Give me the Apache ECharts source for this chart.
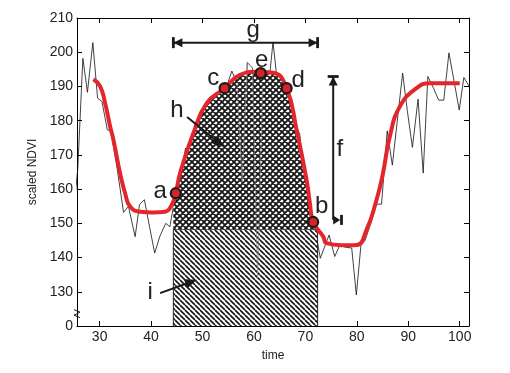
<!DOCTYPE html>
<html><head><meta charset="utf-8">
<script src="https://cdn.jsdelivr.net/npm/echarts@6/dist/echarts.min.js"></script>
<style>html,body{margin:0;padding:0;background:#fff}#c{width:510px;height:373px}</style>
</head><body><div id="c"></div>
<script>
// ---------- data ----------
const xTicks = [30, 40, 50, 60, 70, 80, 90, 100];
const rawT = [24.7, 25.75, 26.74, 27.63, 28.68, 29.6, 30.45, 31.5, 32.2, 33.4, 34.65, 35.6, 36.9, 37.75, 38.7, 39.7, 40.7, 41.7, 42.85, 43.65,
  44.7, 45.7, 46.7, 47.7, 48.7, 49.7, 50.7, 51.7, 52.7, 53.7, 54.7, 55.7, 56.7, 57.7, 58.7, 59.7, 60.7, 61.7, 62.7, 63.7,
  64.7, 65.7, 66.7, 67.7, 68.9, 69.8, 70.7, 71.7, 72.9, 74.6, 75.7, 76.7, 77.8, 79.0, 79.9, 80.8, 81.6, 82.7, 83.8, 84.8,
  85.9, 86.9, 87.9, 88.9, 89.8, 90.8, 91.9, 92.9, 93.8, 94.9, 95.9, 96.9, 97.9, 98.9, 99.9, 100.8, 101.8, 102.8];
const rawV = [150, 166, 198.2, 188.3, 202.8, 186.6, 185.6, 177.3, 177, 166, 153.2, 155, 146.1, 155.5, 156.9, 149, 141.3, 146.2, 150, 149,
  158, 163, 172, 168, 177, 181, 183, 186, 188, 189, 190, 194.5, 191, 162, 197, 195.5, 134, 190, 188, 203,
  189, 188, 184, 180, 176, 163, 155, 150, 139.8, 146.6, 140.3, 143.7, 143, 142.8, 129.1, 143.7, 145, 150, 155.6, 155.6,
  177, 167, 180.5, 193.9, 183, 172.2, 186.3, 164.7, 192.9, 189.5, 186, 186, 199.8, 191.5, 183.1, 192.6, 190.1, 185];
const fitT = [28.8, 30.1, 31.07, 32.04, 32.68, 33.98, 34.95, 35.92, 37.86, 40.3, 42.72, 44.02, 44.8, 45.63, 48.21, 50.82, 54.3, 57.28, 60.52,
  63.75, 66.35, 68.29, 70.23, 70.87, 71.51, 73.46, 74.12, 77.0, 79.94, 81.88, 83.83, 85.0, 86.4, 88.35, 91.6, 94.2, 100];
const fitV = [192.1, 190, 185.1, 178.3, 174.4, 164.6, 158.8, 154.9, 153.4, 153.2, 153.4, 155.4, 158.8, 164.6, 176.3, 185.1, 189.5, 193.4, 194.3,
  194, 189.5, 177.3, 162.7, 155.9, 150.4, 146.1, 144.2, 143.6, 143.7, 148.1, 156.9, 164, 175.3, 184.1, 189.5, 190.9, 190.9];
const markerT = [44.8, 54.3, 61.3, 66.35, 71.51];
const markerV = [158.8, 189.5, 193.9, 189.5, 150.4];
const seasonStart = 44.33, seasonEnd = 72.37, baseLevel = 148.3;
const labelText = ['g', 'e', 'c', 'd', 'h', 'f', 'a', 'b', 'i'];
const labelT = [59.86, 61.5, 52.1, 68.6, 45.0, 76.7, 41.75, 73.15, 39.8];
const labelV = [206.5, 197.7, 192.4, 191.9, 183.1, 171.5, 159.3, 154.9, 129.7];
// arrows: [x1, y1, x2, y2, kind]  kind 0: double with bars, 1: amplitude, 2: single, 3: axis break
const arrowG = [seasonStart, 202.8, seasonEnd, 202.8, 0];
const arrowF = [75.4, 192.9, 75.4, 151.0, 1];
const arrowH = [47.0, 181.1, 54.2, 172.3, 2];
const arrowI = [41.75, 129.6, 48.9, 133.5, 2];
const breakMark = [25.6, 123.6, 25.6, 123.6, 3];

// ---------- helpers ----------
const zip = (a, b) => a.map((v, i) => [v, b[i]]);
function interp(t) {
  for (let i = 0; i < fitT.length - 1; i++) {
    if (t >= fitT[i] && t <= fitT[i + 1]) {
      const r = (t - fitT[i]) / (fitT[i + 1] - fitT[i]);
      return fitV[i] + r * (fitV[i + 1] - fitV[i]);
    }
  }
  return fitV[fitV.length - 1];
}
function makePattern(cross) {
  const s = cross ? 6 : 5;
  const c = document.createElement('canvas');
  c.width = s; c.height = s;
  const ctx = c.getContext('2d');
  ctx.fillStyle = '#fff'; ctx.fillRect(0, 0, s, s);
  ctx.strokeStyle = '#151515'; ctx.lineWidth = cross ? 1.8 : 1.6;
  ctx.beginPath();
  for (let k = -1; k <= 1; k++) {
    ctx.moveTo(k * s, 0); ctx.lineTo(k * s + s, s);
    if (cross) { ctx.moveTo(k * s + s, 0); ctx.lineTo(k * s, s); }
  }
  ctx.stroke();
  return { image: c, repeat: 'repeat' };
}
const FONT = '"Liberation Sans", Arial, sans-serif';
const INK = '#1a1a1a';

const rawData = zip(rawT, rawV);
const fitData = zip(fitT, fitV);
const spikeData = rawData.filter(d => d[0] >= 56.7 && d[0] <= 61.7);
const upperData = [[seasonStart, interp(seasonStart)]]
  .concat(fitData.filter(d => d[0] > seasonStart && d[0] < seasonEnd))
  .concat([[seasonEnd, interp(seasonEnd)]]);
const rectData = [[seasonStart, 120], [seasonStart, baseLevel], [seasonEnd, baseLevel], [seasonEnd, 120]];

function head(tip, dx, dy, len, hw) {
  const n = Math.hypot(dx, dy); const ux = dx / n, uy = dy / n;
  const bx = tip[0] - ux * len, by = tip[1] - uy * len;
  return { type: 'polygon', shape: { points: [tip, [bx - uy * hw, by + ux * hw], [bx + uy * hw, by - ux * hw]] }, style: { fill: INK } };
}
function bar(p, dx, dy, len, w) {
  const n = Math.hypot(dx, dy); const px = -dy / n, py = dx / n;
  return { type: 'line', shape: { x1: p[0] - px * len / 2, y1: p[1] - py * len / 2, x2: p[0] + px * len / 2, y2: p[1] + py * len / 2 }, style: { stroke: INK, lineWidth: w } };
}
function renderArrow(params, api) {
  const kind = api.value(4);
  const p1 = api.coord([api.value(0), api.value(1)]);
  const p2 = api.coord([api.value(2), api.value(3)]);
  const ch = [];
  const ln = (a, b, w) => ({ type: 'line', shape: { x1: a[0], y1: a[1], x2: b[0], y2: b[1] }, style: { stroke: INK, lineWidth: w || 2 } });
  if (kind === 0) {
    ch.push(ln(p1, p2));
    ch.push(head(p1, p1[0] - p2[0], p1[1] - p2[1], 9, 4.5));
    ch.push(head(p2, p2[0] - p1[0], p2[1] - p1[1], 9, 4.5));
    ch.push(bar(p1, 1, 0, 11, 2.8));
    ch.push(bar(p2, 1, 0, 11, 2.8));
  } else if (kind === 1) {
    ch.push(ln(p1, p2));
    ch.push(head(p1, 0, -1, 9, 4.5));
    ch.push(bar(p1, 0, 1, 11, 2.8));
    const tip = [p2[0] + 7, p2[1]];
    ch.push(head(tip, 1, 0, 7, 4.5));
    ch.push(bar([p2[0] + 8.3, p2[1]], 1, 0, 10, 2.8));
  } else if (kind === 2) {
    const dx = p2[0] - p1[0], dy = p2[1] - p1[1];
    const n = Math.hypot(dx, dy);
    ch.push(ln(p1, [p2[0] - dx / n * 8, p2[1] - dy / n * 8]));
    ch.push(head(p2, dx, dy, 12, 5));
  } else {
    ch.push({ type: 'polyline', shape: { points: [[p1[0] - 3, p1[1] - 4], [p1[0] + 3, p1[1] - 1.5], [p1[0] - 3, p1[1] + 1.5], [p1[0] + 3, p1[1] + 4]] }, style: { stroke: INK, lineWidth: 1, fill: null } });
  }
  return { type: 'group', children: ch };
}
function renderLabel(params, api) {
  const p = api.coord([api.value(0), api.value(1)]);
  return { type: 'text', x: p[0], y: p[1], style: { text: labelText[api.value(2)], fill: '#222', font: '24px ' + FONT, align: 'center', verticalAlign: 'middle' } };
}

// ---------- chart ----------
const chart = echarts.init(document.getElementById('c'), null, { renderer: 'canvas' });
const axisCommon = {
  type: 'value', splitLine: { show: false },
  axisLine: { show: true, onZero: false, lineStyle: { color: '#000', width: 1 } },
};
chart.setOption({
  animation: false,
  backgroundColor: '#fff',
  grid: { left: 77, right: 41, top: 18, bottom: 47 },
  xAxis: [
    Object.assign({}, axisCommon, {
      min: 25.6, max: 101.8, position: 'bottom',
      axisTick: { show: true, inside: true, length: 5, customValues: xTicks, lineStyle: { color: '#000' } },
      axisLabel: { show: true, customValues: xTicks, fontSize: 14, color: '#222', fontFamily: FONT, margin: 4 },
      name: 'time', nameLocation: 'middle', nameGap: 24,
      nameTextStyle: { fontSize: 12, color: '#222', fontFamily: FONT }
    }),
    Object.assign({}, axisCommon, {
      min: 25.6, max: 101.8, position: 'top',
      axisTick: { show: true, inside: true, length: 5, customValues: xTicks, lineStyle: { color: '#000' } },
      axisLabel: { show: false }
    })
  ],
  yAxis: [
    Object.assign({}, axisCommon, {
      min: 120, max: 210, interval: 10, position: 'left',
      axisTick: { show: true, inside: true, length: 5, lineStyle: { color: '#000' } },
      axisLabel: { fontSize: 14, color: '#222', fontFamily: FONT, margin: 4, formatter: v => v === 120 ? '0' : String(v) },
      name: 'scaled NDVI', nameLocation: 'middle', nameGap: 38,
      nameTextStyle: { fontSize: 12, color: '#222', fontFamily: FONT }
    }),
    Object.assign({}, axisCommon, {
      min: 120, max: 210, interval: 10, position: 'right',
      axisTick: { show: true, inside: true, length: 5, lineStyle: { color: '#000' } },
      axisLabel: { show: false }
    })
  ],
  series: [
    { type: 'line', name: 'raw', data: rawData, symbol: 'none', z: 2,
      lineStyle: { color: '#111', width: 0.8 } },
    { type: 'line', name: 'base', data: rectData, symbol: 'none', z: 3,
      lineStyle: { color: '#222', width: 1 },
      areaStyle: { color: makePattern(false), opacity: 1, origin: 'start' } },
    { type: 'line', name: 'season', data: upperData, symbol: 'none', z: 4, smooth: 0.5,
      lineStyle: { width: 0 },
      areaStyle: { color: makePattern(true), opacity: 1, origin: baseLevel } },
    { type: 'line', name: 'spikes', data: spikeData, symbol: 'none', z: 5,
      lineStyle: { color: 'rgba(140,140,140,0.85)', width: 0.8 } },
    { type: 'line', name: 'fit', data: fitData, symbol: 'none', z: 6, smooth: 0.5,
      lineStyle: { color: '#e3262b', width: 4 } },
    { type: 'scatter', name: 'markers', data: zip(markerT, markerV), z: 7, symbol: 'circle', symbolSize: 10,
      itemStyle: { color: '#d82228', borderColor: '#1a1a1a', borderWidth: 2.2, opacity: 1 } },
    { type: 'custom', name: 'arrows', renderItem: renderArrow, clip: false, z: 8,
      data: [arrowG, arrowF, arrowH, arrowI, breakMark] },
    { type: 'custom', name: 'labels', renderItem: renderLabel, clip: false, z: 8,
      data: labelT.map((t, i) => [t, labelV[i], i]) }
  ]
});
</script></body></html>
